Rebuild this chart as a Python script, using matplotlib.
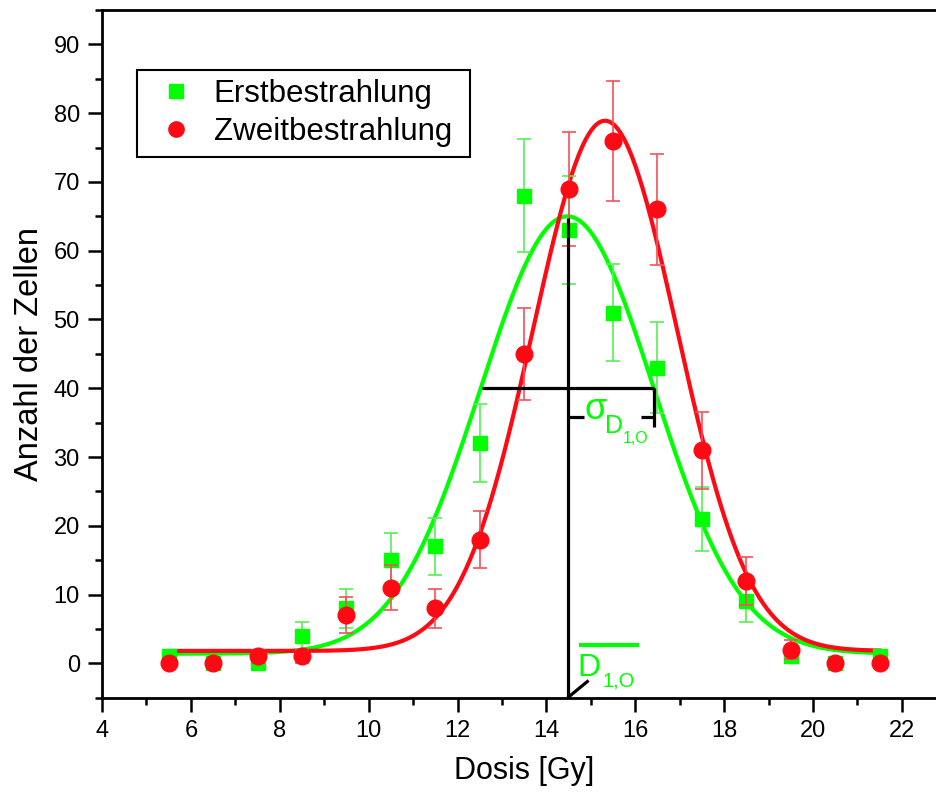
import matplotlib
matplotlib.use('Agg')
from matplotlib import pyplot as plt
from matplotlib.ticker import MultipleLocator
from matplotlib.lines import Line2D
import numpy as np

plt.rcParams['font.family'] = ['Liberation Sans', 'DejaVu Sans']

# Dosis-Klassen (Mitte)
dosis = [5.5, 6.5, 7.5, 8.5, 9.5, 10.5, 11.5, 12.5, 13.5, 14.5, 15.5, 16.5, 17.5, 18.5, 19.5, 20.5, 21.5]

# Erstbestrahlung
erst = [1, 0, 0, 4, 8, 15, 17, 32, 68, 63, 51, 43, 21, 9, 1, 0, 1]
erst_err = [1, 0, 0, 2, 2.8, 3.9, 4.1, 5.7, 8.2, 7.9, 7.1, 6.6, 4.6, 3, 1, 0, 1]

# Zweitbestrahlung
zweit = [0, 0, 1, 1, 7, 11, 8, 18, 45, 69, 76, 66, 31, 12, 2, 0, 0]
zweit_err = [0, 0, 1, 1, 2.6, 3.3, 2.8, 4.2, 6.7, 8.3, 8.7, 8.1, 5.6, 3.5, 1.4, 0, 0]

# Gauss-Fits: (y0, A, xc, sigma)
fit_erst = (1.4, 63.6, 14.47, 1.95)
fit_zweit = (1.8, 77.1, 15.32, 1.62)

green = '#00ff00'
red = '#ff0a14'


def gauss(x, p):
    y0, a, xc, s = p
    return y0 + a * np.exp(-0.5 * ((x - xc) / s) ** 2)


fig = plt.figure(figsize=(9.36, 7.95), dpi=100)
ax = fig.add_axes([0.109, 0.1224, 0.902, 0.865])

xf = np.linspace(5.5, 21.5, 400)
ax.plot(xf, gauss(xf, fit_erst), color=green, lw=3, zorder=3)
ax.plot(xf, gauss(xf, fit_zweit), color=red, lw=3, zorder=3)

ax.errorbar(dosis, erst, yerr=erst_err, fmt='s', color=green, ms=10, ecolor='#55f055',
            elinewidth=1.2, capsize=5, capthick=1.2, zorder=4)
ax.errorbar(dosis, zweit, yerr=zweit_err, fmt='o', color=red, ms=12, ecolor='#f5505a',
            elinewidth=1.2, capsize=5, capthick=1.2, zorder=5)

# Markierungen fuer Mittelwert und Breite
k = dict(color='black', lw=2.3, solid_capstyle='butt', zorder=6)
ax.plot([14.48, 14.48], [-5, 64.8], **k)
ax.plot([12.54, 16.43], [40, 40], **k)
ax.plot([16.43, 16.43], [40, 34.3], **k)
ax.plot([14.48, 14.84], [35.85, 35.85], **k)
ax.plot([16.14, 16.43], [35.85, 35.85], **k)
ax.plot([14.48, 14.95], [-5, -2.5], **k)

# sigma_D_1,O
tk = dict(color=green, ha='left', va='baseline', zorder=7)
ax.text(14.86, 35.5, '\u03c3', fontsize=26, **tk)
ax.text(15.32, 33.5, 'D', fontsize=18, **tk)
ax.text(15.72, 32.0, '1,O', fontsize=11.5, **tk)
# D_1,O mit Querstrich
ax.text(14.70, -1.85, 'D', fontsize=23, **tk)
ax.text(15.27, -3.4, '1,O', fontsize=14.5, **tk)
ax.plot([14.73, 16.08], [2.7, 2.7], color=green, lw=3, solid_capstyle='butt', zorder=7)

ax.set_xlim(4, 23)
ax.set_ylim(-5, 95)
ax.xaxis.set_major_locator(MultipleLocator(2))
ax.xaxis.set_minor_locator(MultipleLocator(1))
ax.yaxis.set_major_locator(MultipleLocator(10))
ax.yaxis.set_minor_locator(MultipleLocator(5))
ax.tick_params(which='major', length=10, width=1.8, labelsize=17, direction='out', pad=6)
ax.tick_params(which='minor', length=5, width=1.8, direction='out')
for s in ax.spines.values():
    s.set_linewidth(2)

ax.set_xlabel('Dosis [Gy]', fontsize=22, labelpad=10)
ax.set_ylabel('Anzahl der Zellen', fontsize=23.5, labelpad=6)

handles = [Line2D([], [], ls='none', marker='s', color=green, ms=10),
           Line2D([], [], ls='none', marker='o', color=red, ms=11)]
leg = ax.legend(handles, ['Erstbestrahlung', 'Zweitbestrahlung '], loc='upper left',
                bbox_to_anchor=(0.0415, 0.9127), borderaxespad=0,
                fontsize=22.5, fancybox=False, edgecolor='black', framealpha=1,
                handletextpad=0.25, borderpad=0.3, labelspacing=0.25, handlelength=1.9)
leg.get_frame().set_linewidth(1.5)

plt.savefig('out.png', dpi=100)
plt.close()
